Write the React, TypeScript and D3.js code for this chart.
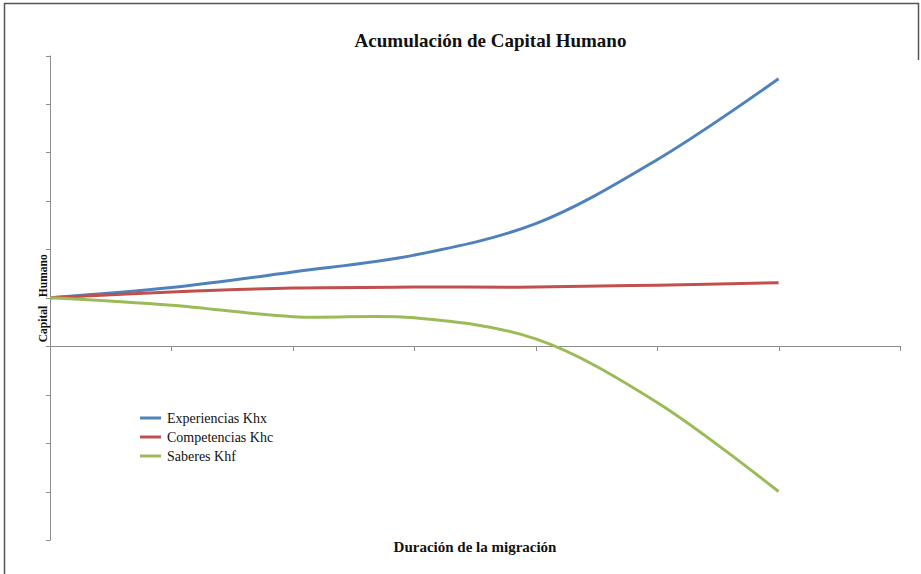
import React from "react";
import * as d3 from "d3";

const periods = [0, 1, 2, 3, 4, 5, 6];
const experiencias = [1.0, 1.21, 1.53, 1.88, 2.53, 3.85, 5.52];
const competencias = [1.0, 1.12, 1.2, 1.22, 1.22, 1.26, 1.31];
const saberes = [1.0, 0.845, 0.61, 0.585, 0.15, -1.16, -3.0];
const xTicks = [0, 1, 2, 3, 4, 5, 6, 7];
const yTicks = [-4, -3, -2, -1, 0, 1, 2, 3, 4, 5, 6];

const seriesNames = ["Experiencias Khx", "Competencias Khc", "Saberes Khf"];
const seriesColors = ["#4F81BD", "#C0504D", "#9BBB59"];

const W = 921;
const H = 574;
const FONT = "'Liberation Serif', 'Times New Roman', serif";

export default function App() {
  const x = d3.scaleLinear().domain([0, 7]).range([50, 900]);
  const y = d3.scaleLinear().domain([-4, 6]).range([540, 55.5]);
  const allSeries = [experiencias, competencias, saberes];
  const line = d3
    .line<number>()
    .x((_, i) => x(periods[i]))
    .y((d) => y(d))
    .curve(d3.curveCatmullRom.alpha(0.5));
  const axisColor = "#8C8C8C";
  return (
    <svg
      width={W}
      height={H}
      style={{ position: "absolute", left: 0, top: 0, background: "#fff" }}
    >
      <rect x={0} y={0} width={W} height={H} fill="#fff" />
      {/* frame */}
      <path d={`M4.5,${H} V3.5 H918.5 V60`} fill="none" stroke="#555" strokeWidth={1.5} />

      {/* title */}
      <text
        x={490.5}
        y={47}
        textAnchor="middle"
        fontFamily={FONT}
        fontWeight="bold"
        fontSize={19}
        fill="#111"
      >
        Acumulación de Capital Humano
      </text>

      {/* y axis */}
      <line x1={50.5} x2={50.5} y1={y(6)} y2={y(-4)} stroke={axisColor} strokeWidth={1} />
      {yTicks.map((t) => (
        <line
          key={"yt" + t}
          x1={46}
          x2={50.5}
          y1={Math.round(y(t)) + 0.5}
          y2={Math.round(y(t)) + 0.5}
          stroke={axisColor}
          strokeWidth={1}
        />
      ))}

      {/* x axis */}
      <line
        x1={x(0)}
        x2={x(7)}
        y1={Math.round(y(0)) + 0.5}
        y2={Math.round(y(0)) + 0.5}
        stroke={axisColor}
        strokeWidth={1.2}
      />
      {xTicks.map((t) => (
        <line
          key={"xt" + t}
          x1={Math.round(x(t)) + 0.5}
          x2={Math.round(x(t)) + 0.5}
          y1={Math.round(y(0))}
          y2={Math.round(y(0)) + 5}
          stroke={axisColor}
          strokeWidth={1}
        />
      ))}

      {/* series */}
      {allSeries.map((s, i) => (
        <path
          key={"s" + i}
          d={line(s) || ""}
          fill="none"
          stroke={seriesColors[i]}
          strokeWidth={3}
          strokeLinecap="butt"
        />
      ))}

      {/* y label */}
      <text
        transform={`translate(47,${y(0) - 4}) rotate(-90)`}
        fontFamily={FONT}
        fontWeight="bold"
        fontSize={11.5}
        fill="#111"
        style={{ whiteSpace: "pre" }}
      >
        {"Capital   Humano"}
      </text>

      {/* x label */}
      <text
        x={475}
        y={552}
        textAnchor="middle"
        fontFamily={FONT}
        fontWeight="bold"
        fontSize={15}
        fill="#111"
      >
        Duración de la migración
      </text>

      {/* legend */}
      {seriesNames.map((n, i) => {
        const ly = 418 + i * 19;
        return (
          <g key={"l" + i}>
            <line x1={140} x2={161} y1={ly} y2={ly} stroke={seriesColors[i]} strokeWidth={3} />
            <text
              x={167}
              y={ly + 4.5}
              fontFamily={FONT}
              fontSize={14}
              fill="#111"
            >
              {n}
            </text>
          </g>
        );
      })}
    </svg>
  );
}
